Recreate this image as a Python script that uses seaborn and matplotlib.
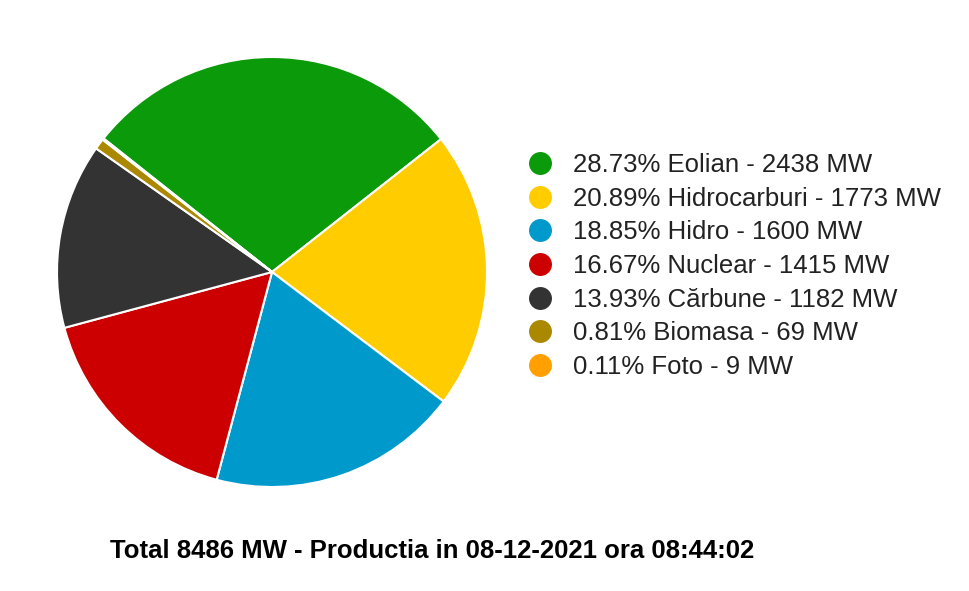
import matplotlib
matplotlib.use("Agg")
import matplotlib.pyplot as plt
import seaborn as sns
from matplotlib.lines import Line2D

sns.set_theme(style="white")
plt.rcParams['font.family'] = ['Liberation Sans', 'DejaVu Sans']

categories = ["Eolian", "Hidrocarburi", "Hidro", "Nuclear", "Cărbune", "Biomasa", "Foto"]
values_mw = [2438, 1773, 1600, 1415, 1182, 69, 9]
percents = ["28.73%", "20.89%", "18.85%", "16.67%", "13.93%", "0.81%", "0.11%"]
colors = ["#0a9a0a", "#ffcc00", "#0099cc", "#cc0000", "#333333", "#aa8800", "#ff9f00"]
title = "Total 8486 MW - Productia in 08-12-2021 ora 08:44:02"

W, H = 970, 591
fig = plt.figure(figsize=(W / 100, H / 100), dpi=100)
fig.patch.set_facecolor("white")

cx, cy, r = 272, 272, 215
ax = fig.add_axes([(cx - r) / W, (H - cy - r) / H, 2 * r / W, 2 * r / H])
ax.pie(values_mw, colors=colors, startangle=141.6, counterclock=False,
       wedgeprops=dict(edgecolor="white", linewidth=1.5), radius=1)
ax.set_xlim(-1.0, 1.0)
ax.set_ylim(-1.0, 1.0)
ax.set_aspect("equal")
ax.axis("off")

labels = [f"{p} {c} - {v} MW" for p, c, v in zip(percents, categories, values_mw)]
handles = [Line2D([0], [0], marker="o", linestyle="none", markersize=15.5,
                  markerfacecolor=col, markeredgecolor=col) for col in colors]
leg = fig.legend(handles, labels, loc="upper left",
                 bbox_to_anchor=(527 / W, 1 - 153 / H),
                 frameon=False, fontsize=18.5, labelspacing=0.377,
                 handlelength=1.0, handletextpad=0.79, borderpad=0, borderaxespad=0)
for t in leg.get_texts():
    t.set_color("#222222")

fig.text(432 / W, 1 - 551 / H, title, ha="center", va="center",
         fontsize=18.5, fontweight="bold", color="black")

fig.savefig("out.png", dpi=100, facecolor="white")
